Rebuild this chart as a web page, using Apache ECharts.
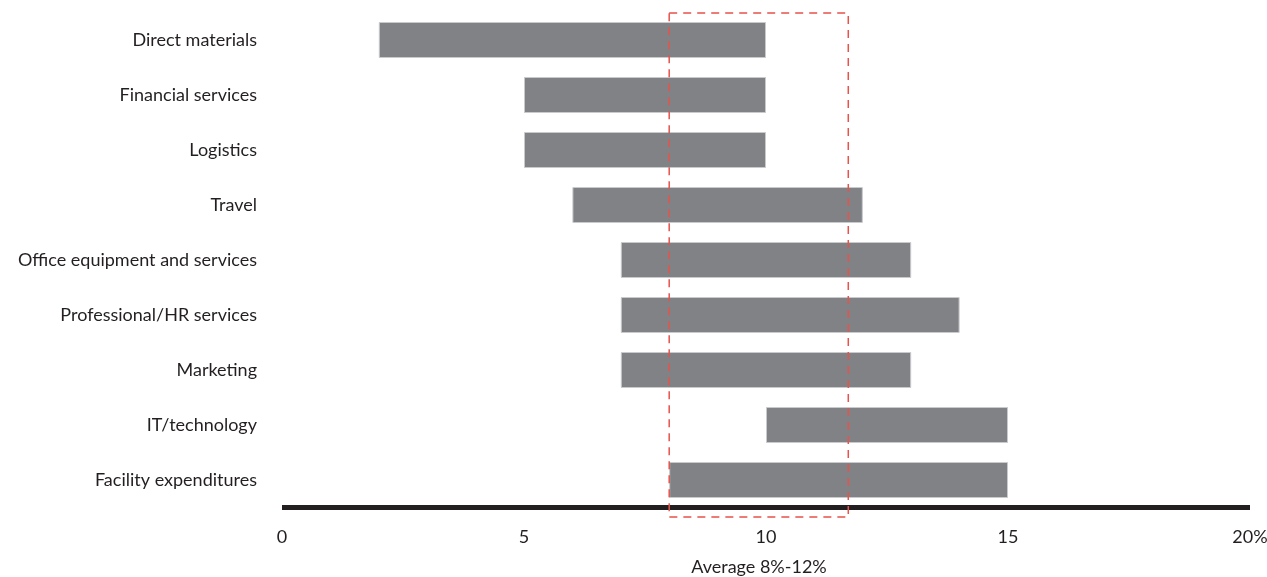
<!DOCTYPE html>
<html>
<head>
<meta charset="utf-8">
<script src="https://cdn.jsdelivr.net/npm/echarts@6/dist/echarts.min.js"></script>
<style>
  html, body { margin: 0; padding: 0; background: #fff; }
  #main { width: 1267px; height: 577px; }
</style>
</head>
<body>
<div id="main"></div>
<script>
// categories top -> bottom
var categories = ['Direct materials', 'Financial services', 'Logistics', 'Travel',
  'Office equipment and services', 'Professional/HR services', 'Marketing',
  'IT/technology', 'Facility expenditures'];
var rangeLow  = [2, 5, 5, 6, 7, 7, 7, 10, 8];   // savings range start (%)
var rangeHigh = [10, 10, 10, 12, 13, 14, 13, 15, 15]; // savings range end (%)
var xTicks = [0, 5, 10, 15, 20];
var avgBox = [8, 11.7]; // dashed "average" box, x range

var chart = echarts.init(document.getElementById('main'));
var font = 'Lato, "Open Sans", sans-serif';

var option = {
  animation: false,
  grid: { left: 282, right: 17, top: 12.5, bottom: 69.5, outerBoundsMode: 'none' },
  xAxis: {
    type: 'value',
    min: 0, max: 20, interval: 5,
    axisLine: { show: true, lineStyle: { color: '#231f20', width: 5, cap: 'butt' } },
    axisTick: { show: false },
    splitLine: { show: false },
    axisLabel: {
      margin: 21, color: '#231f20', fontSize: 18, fontFamily: font,
      formatter: function (v) { return v === xTicks[xTicks.length - 1] ? v + '%' : '' + v; }
    },
    name: 'Average 8%-12%',
    nameLocation: 'middle',
    nameGap: 51,
    nameTextStyle: { color: '#231f20', fontSize: 18, fontFamily: font, padding: [0, 14, 0, 0] }
  },
  yAxis: {
    type: 'category',
    inverse: true,
    data: categories,
    axisLine: { show: false },
    axisTick: { show: false },
    axisLabel: { margin: 25, color: '#231f20', fontSize: 18, fontFamily: font }
  },
  series: [
    {
      type: 'bar', stack: 'r', barWidth: 36,
      itemStyle: { color: 'transparent' },
      silent: true,
      data: rangeLow
    },
    {
      type: 'bar', stack: 'r', barWidth: 36,
      itemStyle: { color: '#808285', borderColor: '#c9cacc', borderWidth: 1 },
      data: rangeHigh.map(function (h, i) { return h - rangeLow[i]; })
    }
  ]
};
chart.setOption(option);

// dashed average box, placed through the x scale
var x0 = chart.convertToPixel({ xAxisIndex: 0 }, avgBox[0]);
var x1 = chart.convertToPixel({ xAxisIndex: 0 }, avgBox[1]);
chart.setOption({
  graphic: [{
    type: 'rect',
    z: 100,
    shape: { x: x0, y: 13, width: x1 - x0, height: 504 },
    style: { fill: 'none', stroke: '#e8524a', lineWidth: 1.5, lineDash: [8, 6] }
  }]
});
</script>
</body>
</html>
